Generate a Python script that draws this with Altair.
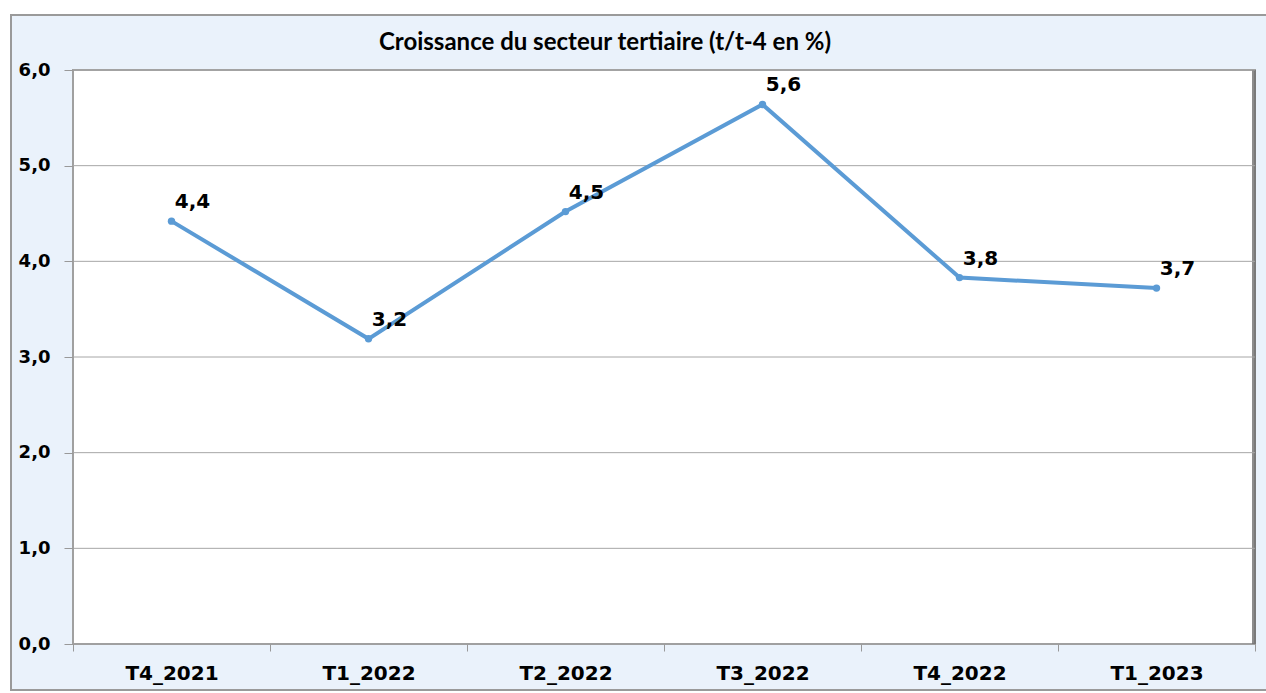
import altair as alt
import pandas as pd

# ---- data ----
quarters = ["T4_2021", "T1_2022", "T2_2022", "T3_2022", "T4_2022", "T1_2023"]
values = [4.42, 3.19, 4.52, 5.64, 3.83, 3.72]
value_labels = ["4,4", "3,2", "4,5", "5,6", "3,8", "3,7"]
y_ticks = [0, 1, 2, 3, 4, 5, 6]

W, H = 1182, 574
BG = "#eaf2fb"
LINE = "#5b9bd5"
GRID = "#a6a6a6"

df = pd.DataFrame({"q": quarters, "v": values, "lab": value_labels})
grid_df = pd.DataFrame({"t": y_ticks[1:]})
one = pd.DataFrame({"a": [0]})

x_enc = alt.X(
    "q:N",
    sort=quarters,
    scale=alt.Scale(type="band", paddingInner=0, paddingOuter=0),
    axis=alt.Axis(
        title=None,
        labelAngle=0,
        labelFont="DejaVu Sans",
        labelFontWeight="bold",
        labelFontSize=20,
        labelColor="#000000",
        labelPadding=12,
        tickBand="extent",
        tickSize=7,
        tickColor="#999999",
        domain=False,
        grid=False,
        zindex=1,
    ),
)
y_enc = alt.Y(
    "v:Q",
    scale=alt.Scale(domain=[0, 6], nice=False, zero=True),
    axis=alt.Axis(
        title=None,
        values=y_ticks,
        labelExpr="replace(format(datum.value, '.1f'), '.', ',')",
        labelFont="DejaVu Sans",
        labelFontWeight="bold",
        labelFontSize=18,
        labelColor="#000000",
        labelPadding=14,
        tickSize=9,
        tickColor="#999999",
        domain=False,
        grid=False,
        zindex=1,
    ),
)

# outer patterned frame
frame = alt.Chart(one).mark_rect(
    fill=BG, stroke="#9a9a9a", strokeWidth=2, clip=False
).encode(
    x=alt.value(-62), x2=alt.value(W + 20), y=alt.value(-55), y2=alt.value(H + 46)
)

# white plot area
plot_bg = alt.Chart(one).mark_rect(
    fill="#ffffff", stroke="#a0a0a0", strokeWidth=2
).encode(x=alt.value(0), x2=alt.value(W), y=alt.value(0), y2=alt.value(H))

# right shadow of plot area
shadow = alt.Chart(one).mark_rect(fill="#707070", opacity=0.8).encode(
    x=alt.value(W - 3), x2=alt.value(W + 1), y=alt.value(0), y2=alt.value(H)
)

gridlines = alt.Chart(grid_df).mark_rule(color=GRID, strokeWidth=1).encode(
    y=alt.Y("t:Q", scale=alt.Scale(domain=[0, 6], nice=False)),
    x=alt.value(0),
    x2=alt.value(W),
)

line = alt.Chart(df).mark_line(
    color=LINE, strokeWidth=4, point=alt.OverlayMarkDef(color=LINE, size=55, filled=True, opacity=1)
).encode(x=x_enc, y=y_enc)

text = alt.Chart(df).mark_text(
    font="DejaVu Sans", fontWeight="bold", fontSize=20, color="#000000",
    dx=21, dy=-19, align="center", baseline="middle",
).encode(x=alt.X("q:N", sort=quarters), y="v:Q", text="lab:N")

chart = alt.layer(frame, plot_bg, shadow, gridlines, line, text).properties(
    width=W,
    height=H,
    autosize=alt.AutoSizeParams(type="none"),
    padding={"left": 73, "top": 70, "right": 11, "bottom": 49},
    background="#ffffff",
    title=alt.TitleParams(
        "Croissance du secteur tertiaire (t/t-4 en %)",
        font="Lato",
        fontWeight="bold",
        fontSize=24,
        color="#000000",
        anchor="middle",
        frame="group",
        dx=-59,
        dy=53,
        offset=12,
    ),
).configure_view(stroke=None)

chart.save("out.html", embed_options={"renderer": "svg", "actions": False})
